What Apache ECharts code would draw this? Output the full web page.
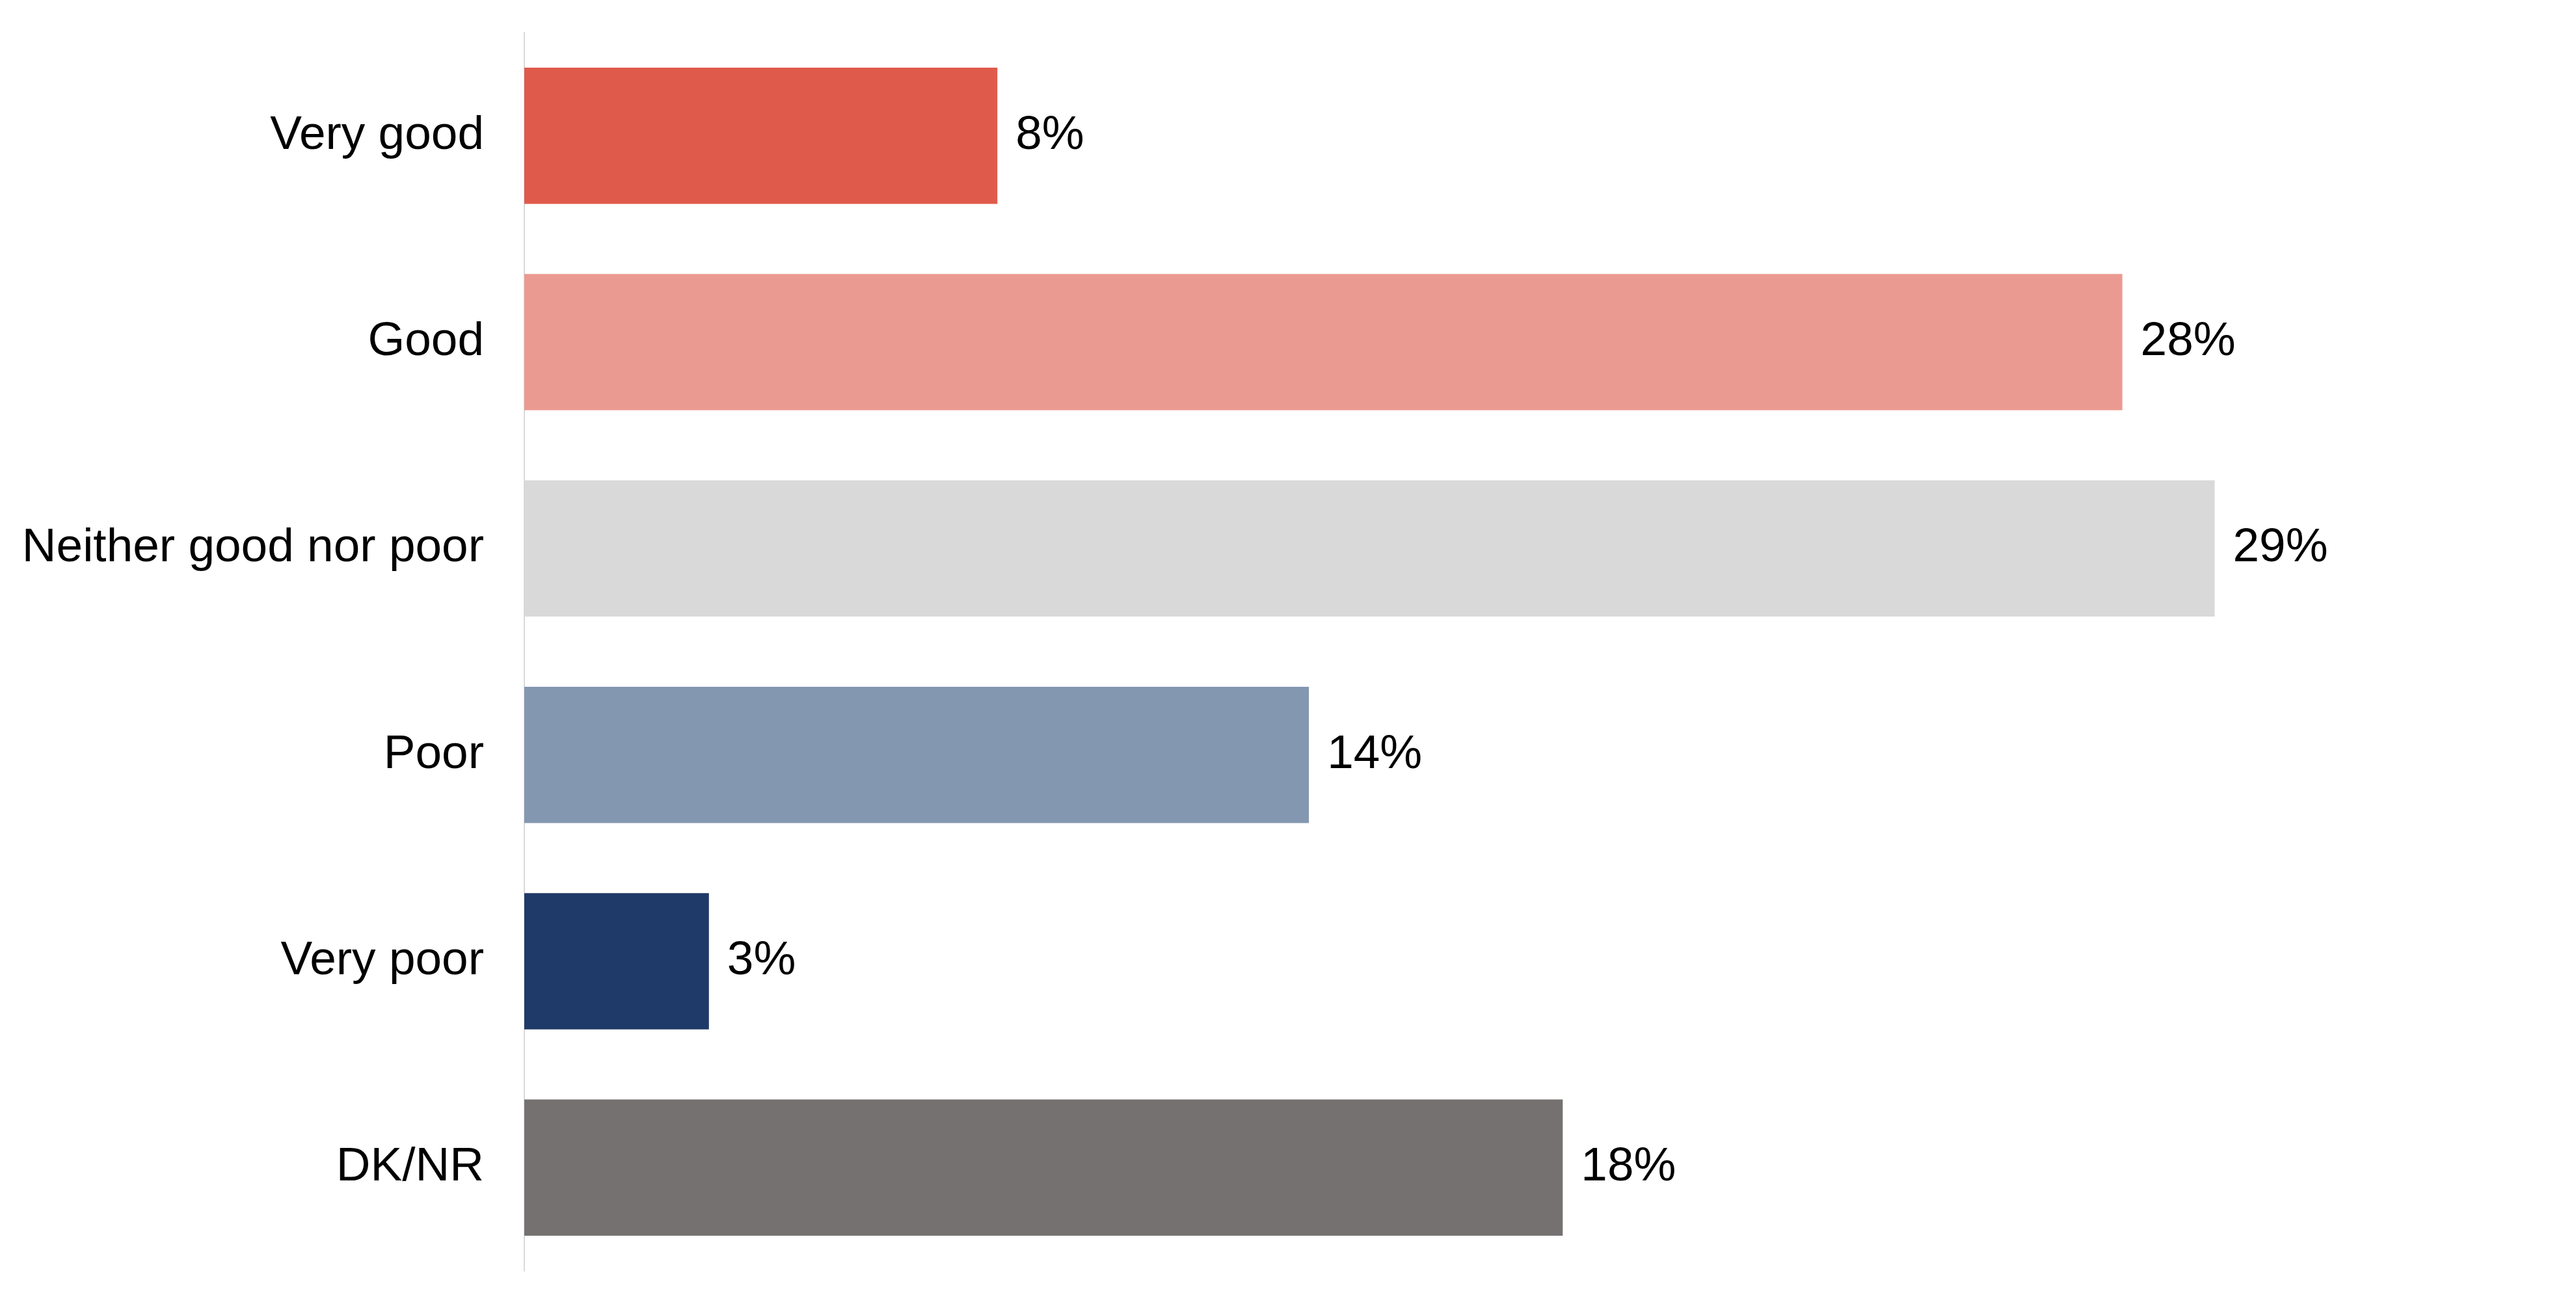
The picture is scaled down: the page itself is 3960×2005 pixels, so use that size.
<!DOCTYPE html>
<html>
<head>
<meta charset="utf-8">
<script src="https://cdn.jsdelivr.net/npm/echarts@6/dist/echarts.min.js"></script>
<style>
  html, body { margin: 0; padding: 0; background: #fff; }
</style>
</head>
<body>
<div id="main" style="width: 3960px;height:2005px"></div>
<script>
// categories, top to bottom
let categories = ["Very good", "Good", "Neither good nor poor", "Poor", "Very poor", "DK/NR"];
// shares in percent
let values = [8.2, 27.7, 29.3, 13.6, 3.2, 18.0];
let barColors = ["#E05A4B", "#EB9A92", "#D9D9D9", "#8497B0", "#1F3A68", "#767171"];

let myChart = echarts.init(document.getElementById("main"));

let serieData = [];
values.forEach((v, i) => {
  serieData.push({
    value: v,
    itemStyle: { color: barColors[i] }
  });
});

let option = {
  backgroundColor: "#fff",
  animation: false,
  grid: {
    left: 806,
    right: 50,
    top: 50,
    bottom: 51,
    containLabel: false
  },
  xAxis: {
    type: "value",
    min: 0,
    max: 35,
    show: false
  },
  yAxis: {
    type: "category",
    inverse: true,
    data: categories,
    axisLine: {
      show: true,
      lineStyle: { color: "#D9D9D9", width: 2 }
    },
    axisTick: { show: false },
    axisLabel: {
      margin: 62,
      color: "#000",
      fontSize: 73,
      padding: [16, 0, 0, 0],
      fontFamily: "Liberation Sans, Arial, sans-serif"
    }
  },
  series: [
    {
      type: "bar",
      barWidth: "66%",
      data: serieData,
      label: {
        show: true,
        position: "right",
        distance: 28,
        color: "#000",
        fontSize: 73,
        padding: [16, 0, 0, 0],
        fontFamily: "Liberation Sans, Arial, sans-serif",
        formatter: p => Math.round(p.value) + "%"
      }
    }
  ]
};

myChart.setOption(option);
</script>
</body>
</html>
